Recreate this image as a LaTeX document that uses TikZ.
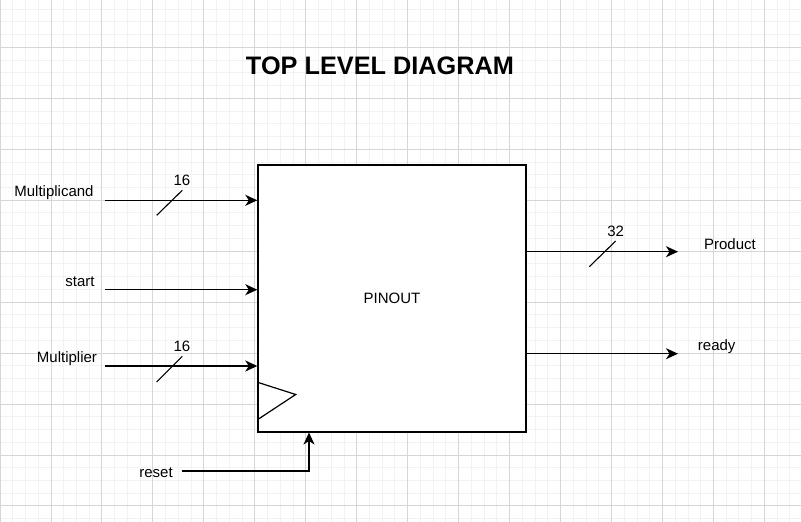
\documentclass[tikz,border=0pt]{standalone}
\usepackage{fontspec}
\setmainfont{Liberation Sans}
\usetikzlibrary{arrows.meta,calc,positioning}

\begin{document}
\begin{tikzpicture}[x=1pt,y=-1pt,>={Stealth[length=12pt,width=11pt,inset=3.5pt]},
    minorline/.style={draw=black!5,line width=0.9pt},
    majorline/.style={draw=black!16,line width=0.9pt},
    sig/.style={->,line width=1.5pt},
    bus/.style={line width=1.1pt},
    lbl/.style={font=\fontsize{15}{18}\selectfont,inner sep=0pt}]
  \useasboundingbox (0,0) rectangle (801,522);
  % background grid
  \fill[white] (0,0) rectangle (801,522);
  \foreach \i in {0,...,62} \draw[minorline] (\i*12.74,0) -- (\i*12.74,522);
  \foreach \j in {0,...,41} \draw[minorline] (0,-3.66+\j*12.74) -- (801,-3.66+\j*12.74);
  \foreach \i in {0,...,15} \draw[majorline] (\i*50.96,0) -- (\i*50.96,522);
  \foreach \j in {1,...,10} \draw[majorline] (0,-3.66+\j*50.96) -- (801,-3.66+\j*50.96);

  \node[font=\fontsize{25.3}{30}\selectfont\bfseries] (title) at (380,66) {TOP LEVEL DIAGRAM};

  % the block
  \node[draw,line width=1.4pt,fill=white,minimum width=268pt,minimum height=267pt,
        inner sep=0pt,lbl] (pinout) at (392,298.3) {PINOUT};
  \draw[line width=1.2pt] ($(pinout.south west)+(0,-50.3)$) -- ++(38.4,12.3) -- ++(-38.4,25.3);

  % inputs
  \node[lbl] (mcand) at (54,193) {Multiplicand};
  \node[lbl] (start) at (80,282) {start};
  \node[lbl] (mplier) at (67,359) {Multiplier};
  \node[lbl] (reset) at (156,473) {reset};
  \coordinate (mcandin) at (105.3,200.3);
  \coordinate (startin) at (105.3,289.7);
  \coordinate (mplierin) at (105.3,366);
  \coordinate (resetin) at (181.7,471);
  \draw[sig] (mcandin) -- (mcandin -| pinout.west);
  \draw[sig] (startin) -- (startin -| pinout.west);
  \draw[sig] (mplierin) -- (mplierin -| pinout.west);
  \draw[sig] (resetin) -| ($(pinout.south west)+(51.7,0)$);

  % outputs
  \node[lbl] (prod) at (730,244) {Product};
  \node[lbl] (ready) at (716.7,346.7) {ready};
  \coordinate (prodout) at (678,251.7);
  \coordinate (readyout) at (678,353.7);
  \draw[sig] (prodout -| pinout.east) -- (prodout);
  \draw[sig] (readyout -| pinout.east) -- (readyout);

  % bus widths
  \draw[bus] (156.7,215.3) -- (182.3,190.3);
  \node[lbl] (wa) at (182,180) {16};
  \draw[bus] (156.7,382) -- (182.3,356.3);
  \node[lbl] (wb) at (182,346) {16};
  \draw[bus] (589.3,266.7) -- (615.7,241);
  \node[lbl] (wp) at (615.7,231) {32};
\end{tikzpicture}
\end{document}
